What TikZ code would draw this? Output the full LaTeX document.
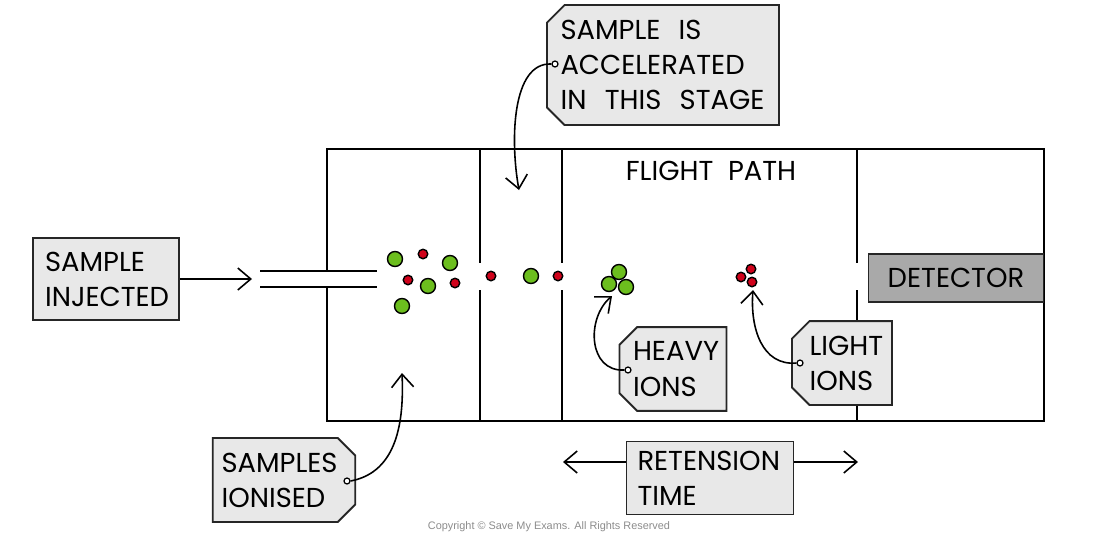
\documentclass[tikz,border=0pt]{standalone}
\usepackage{fontspec}
\setmainfont{Poppins}
\newfontfamily\notefont{Liberation Sans}
\usepackage{tikz}
\usetikzlibrary{shapes.misc,arrows.meta,positioning}

\definecolor{tagfill}{HTML}{E8E8E8}
\definecolor{detfill}{HTML}{A9A9A9}
\definecolor{iongreen}{HTML}{6CBE1E}
\definecolor{ionred}{HTML}{D0021B}

\tikzset{
  wall/.style={line width=1.1pt, line cap=rect},
  labelfont/.style={font=\fontsize{15.6}{20}\selectfont},
  plaintag/.style={labelfont, draw=black!85, line width=1.1pt, fill=tagfill,
                   align=left, inner xsep=0pt},
  tag/.style={plaintag, chamfered rectangle, chamfered rectangle xsep=5pt,
              chamfered rectangle ysep=5pt},
  hole/.style={circle, draw=black, fill=white, line width=0.7pt,
               minimum size=0.12cm, inner sep=0pt},
  pointer/.style={line width=0.9pt, -{Straight Barb[length=2.6mm,width=4.4mm]}},
  heavyion/.style={circle, draw=black, fill=iongreen, line width=0.8pt,
                   minimum size=0.3cm, inner sep=0pt},
  lightion/.style={circle, draw=black, fill=ionred, line width=0.8pt,
                   minimum size=0.19cm, inner sep=0pt}
}

\begin{document}
\begin{tikzpicture}[x=0.02cm,y=-0.02cm]
\useasboundingbox (0,0) rectangle (1100,539);

%% mass spectrometer body
\draw[wall] (327,271) -- (327,149) -- (1044,149) -- (1044,421) -- (327,421) -- (327,287);
\foreach \x in {480,562,857}{
  \draw[wall] (\x,149) -- (\x,262);
  \draw[wall] (\x,291) -- (\x,421);
}
% inlet pipe
\draw[wall] (261,271) -- (376,271);
\draw[wall] (261,287) -- (376,287);

\node[labelfont] (flight) at (711,171) {FLIGHT\ \ PATH};
\node[labelfont, draw=black!85, line width=1.1pt, fill=detfill,
      minimum width=3.5cm, minimum height=0.96cm] (detector) at (956,278) {DETECTOR};

%% ions
\foreach \x/\y in {395/259, 450/263, 428/286, 402/306, 531/276, 619/272, 609/284, 626/287}
  \node[heavyion] at (\x,\y) {};
\foreach \x/\y in {423/254, 408/280, 455/283, 491/276, 558/276, 751/269, 741/277, 752/282}
  \node[lightion] at (\x,\y) {};

%% labels
\node[plaintag, minimum width=2.92cm, minimum height=1.64cm, text width=2.44cm]
  (injected) at (106,279) {SAMPLE\\INJECTED};
\node[tag, chamfered rectangle corners={north west,south west},
      minimum width=4.64cm, minimum height=2.4cm, text width=4.1cm]
  (accel) at (663,65) {SAMPLE\ \ IS\\ACCELERATED\\IN\ \ THIS\ \ STAGE};
\node[tag, chamfered rectangle corners={north west,south west},
      minimum width=2.14cm, minimum height=1.48cm, text width=1.6cm]
  (heavy) at (673,369) {HEAVY\\IONS};
\node[tag, chamfered rectangle corners={north west,south west},
      minimum width=2.0cm, minimum height=1.44cm, text width=1.3cm]
  (light) at (842,363) {LIGHT\\IONS};
\node[tag, chamfered rectangle corners={north east,south east},
      minimum width=2.84cm, minimum height=1.46cm, text width=2.5cm]
  (ionised) at (284,480) {SAMPLES\\IONISED};
\node[plaintag, minimum width=3.34cm, minimum height=1.46cm, text width=2.9cm]
  (retension) at (710,478) {RETENSION\\TIME};

% label holes
\node[hole] (accelhole) at (555,64) {};
\node[hole] (heavyhole) at (628,370) {};
\node[hole] (lighthole) at (800,363) {};
\node[hole] (ionisedhole) at (347,481) {};

% arrow ends
\coordinate (injtip) at (252,279);
\coordinate (acceltip) at (519,190);
\coordinate (heavytip) at (612,296);
\coordinate (lighttip) at (753,290);
\coordinate (ionisedtip) at (402,373);
\coordinate (rtleft) at (563,462);
\coordinate (rtright) at (858,462);

\draw[pointer] (injected.east |- injtip) -- (injtip);
\draw[pointer] (accelhole.west) .. controls (512,62) and (510,140) .. (acceltip);
\draw[pointer] (heavyhole.west) .. controls (588,372) and (586,318) .. (heavytip);
\draw[pointer] (lighthole.west) .. controls (762,366) and (750,328) .. (lighttip);
\draw[pointer] (ionisedhole.east) .. controls (398,472) and (404,420) .. (ionisedtip);
\draw[pointer] (retension.west |- rtleft) -- (rtleft);
\draw[pointer] (retension.east |- rtright) -- (rtright);

\node[font=\notefont\fontsize{6.2}{8}\selectfont, text=black!45] (copyright) at (549,527)
  {Copyright © Save My Exams. All Rights Reserved};
\end{tikzpicture}
\end{document}
